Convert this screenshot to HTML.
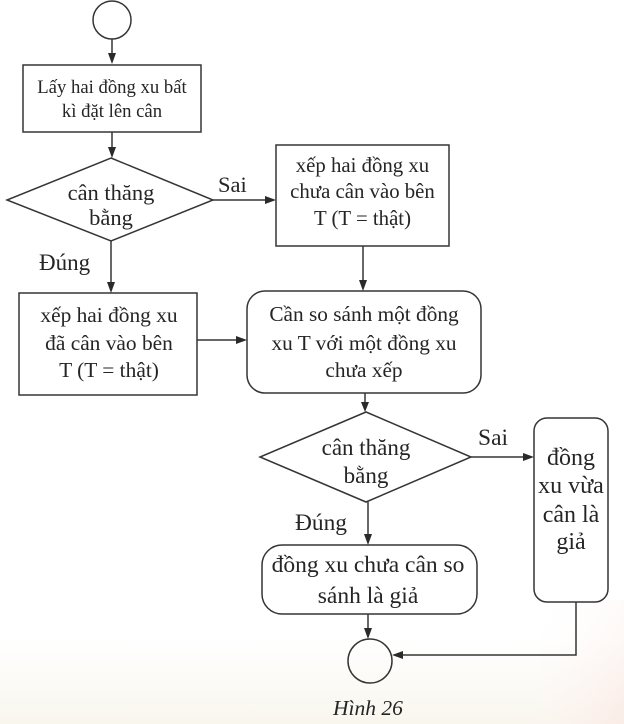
<!DOCTYPE html>
<html>
<head>
<meta charset="utf-8">
<style>
  html, body { margin: 0; padding: 0; }
  body { width: 624px; height: 724px; overflow: hidden; background: #ffffff; }
  svg { display: block; }
  text { font-family: "Liberation Serif", "Times New Roman", serif; fill: #252525; }
</style>
</head>
<body>
<svg width="624" height="724" viewBox="0 0 624 724" xmlns="http://www.w3.org/2000/svg">
  <defs>
    <linearGradient id="bg" x1="0" y1="0" x2="0" y2="1">
      <stop offset="0" stop-color="#ffffff"/>
      <stop offset="0.88" stop-color="#ffffff"/>
      <stop offset="1" stop-color="#f9f6ee"/>
    </linearGradient>
    <linearGradient id="pink" x1="0" y1="0" x2="1" y2="1">
      <stop offset="0" stop-color="#ffffff" stop-opacity="0"/>
      <stop offset="1" stop-color="#fbe9e4" stop-opacity="0.8"/>
    </linearGradient>
  </defs>
  <rect x="0" y="0" width="624" height="724" fill="url(#bg)"/>
  <rect x="540" y="600" width="84" height="124" fill="url(#pink)"/>

  <g stroke="#353535" stroke-width="1.5" fill="none">
    <circle cx="112" cy="20" r="19"/>
    <line x1="112" y1="39" x2="112" y2="56"/>
    <rect x="23" y="65" width="178" height="67"/>
    <line x1="112" y1="132" x2="112" y2="150"/>
    <polygon points="111,158 213,200 111,241 7,200"/>
    <line x1="213" y1="200" x2="268" y2="200"/>
    <rect x="276" y="145" width="173" height="101"/>
    <line x1="363" y1="246" x2="363" y2="283"/>
    <rect x="247" y="291" width="234" height="102" rx="18" ry="18"/>
    <line x1="111" y1="241" x2="111" y2="285"/>
    <rect x="19" y="293" width="178" height="102"/>
    <line x1="197" y1="340" x2="239" y2="340"/>
    <line x1="365" y1="393" x2="365" y2="405"/>
    <polygon points="366,412 471,457 366,502 260,457"/>
    <line x1="471" y1="457" x2="526" y2="457"/>
    <rect x="534" y="418" width="74" height="184" rx="13" ry="13"/>
    <line x1="368" y1="502" x2="368" y2="537"/>
    <rect x="262" y="545" width="215" height="69" rx="20" ry="20"/>
    <line x1="368" y1="614" x2="368" y2="630"/>
    <circle cx="370" cy="661" r="22"/>
    <polyline points="576,602 576,655 400,655"/>
  </g>

  <g fill="#2a2a2a">
    <polygon points="108,53 116,53 112,64"/>
    <polygon points="108,147 116,147 112,158"/>
    <polygon points="265,196 265,204 276,200"/>
    <polygon points="359,280 367,280 363,291"/>
    <polygon points="107,282 115,282 111,293"/>
    <polygon points="236,336 236,344 247,340"/>
    <polygon points="361,402 369,402 365,412"/>
    <polygon points="523,453 523,461 534,457"/>
    <polygon points="364,534 372,534 368,545"/>
    <polygon points="364,628 372,628 368,639"/>
    <polygon points="403,651 403,659 392,655"/>
  </g>

  <g font-size="18.7" text-anchor="middle">
    <text x="112" y="93">Lấy hai đồng xu bất</text>
    <text x="112" y="117">kì đặt lên cân</text>
  </g>

  <g font-size="22.5" text-anchor="middle">
    <text x="111" y="200">cân thăng</text>
    <text x="111" y="225">bằng</text>
  </g>
  <text x="218" y="192" font-size="22.5">Sai</text>
  <text x="39" y="270" font-size="23">Đúng</text>

  <g font-size="20.8" text-anchor="middle">
    <text x="362.5" y="172">xếp hai đồng xu</text>
    <text x="362.5" y="198">chưa cân vào bên</text>
    <text x="362.5" y="225">T (T = thật)</text>
  </g>

  <g font-size="21.3" text-anchor="middle">
    <text x="364" y="321">Cần so sánh một đồng</text>
    <text x="364" y="350">xu T với một đồng xu</text>
    <text x="364" y="377">chưa xếp</text>
  </g>

  <g font-size="21.4" text-anchor="middle">
    <text x="109" y="322">xếp hai đồng xu</text>
    <text x="109" y="350">đã cân vào bên</text>
    <text x="109" y="377">T (T = thật)</text>
  </g>

  <g font-size="23" text-anchor="middle">
    <text x="366" y="455">cân thăng</text>
    <text x="366" y="483">bằng</text>
  </g>
  <text x="478" y="445" font-size="23.5">Sai</text>
  <text x="295" y="530" font-size="23.4">Đúng</text>

  <g font-size="24" text-anchor="middle">
    <text x="571" y="465">đồng</text>
    <text x="571" y="493">xu vừa</text>
    <text x="571" y="522">cân là</text>
    <text x="571" y="549">giả</text>
  </g>

  <g font-size="23.5" text-anchor="middle">
    <text x="368" y="572">đồng xu chưa cân so</text>
    <text x="368" y="603">sánh là giả</text>
  </g>

  <text x="333" y="715" font-size="21.5" font-style="italic">Hình 26</text>
</svg>
</body>
</html>
